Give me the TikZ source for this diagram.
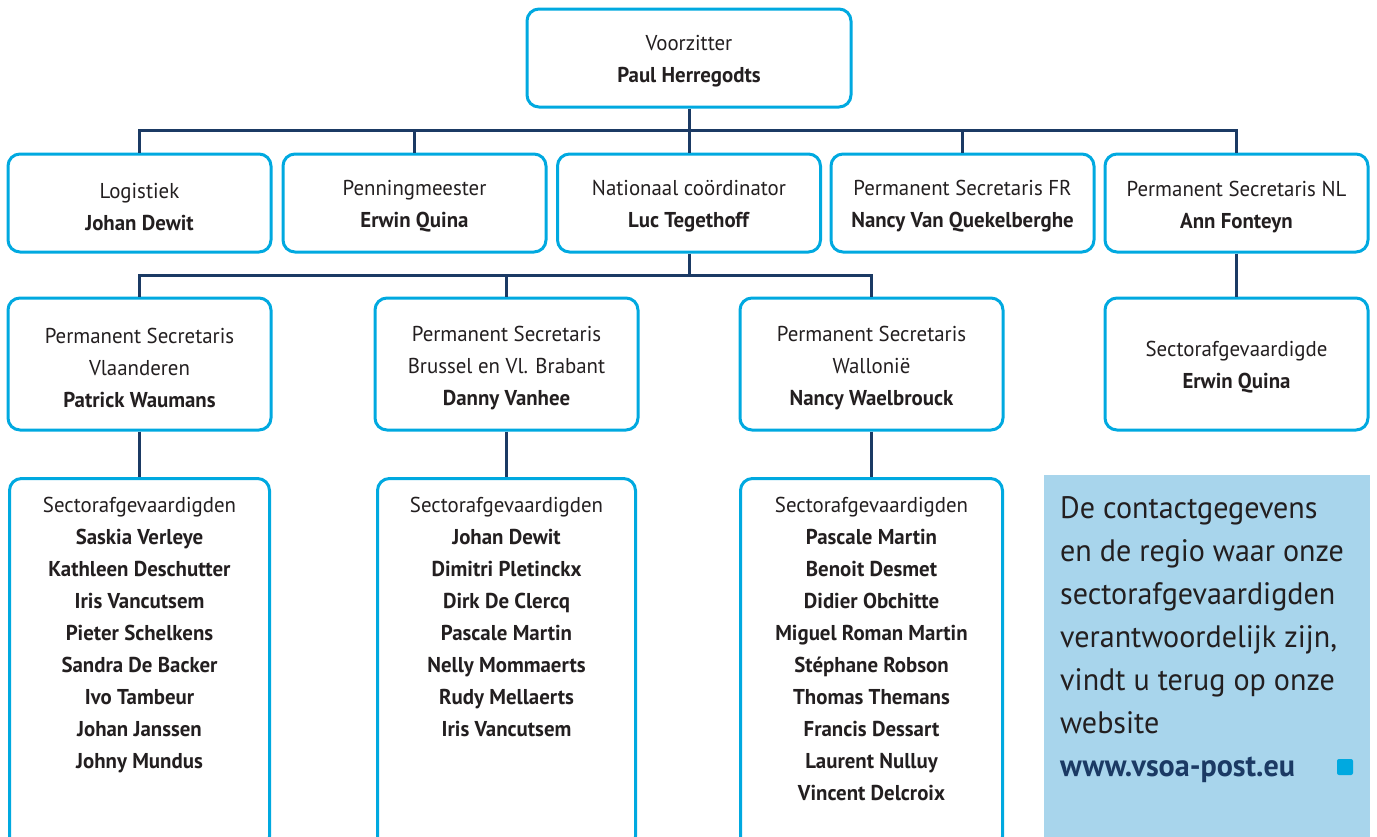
\documentclass[tikz,border=0pt]{standalone}
\usepackage{fontspec}
\setmainfont{PT Sans}[FakeStretch=0.97]
\usetikzlibrary{positioning}
\definecolor{vsoaCyan}{HTML}{00A9E0}
\definecolor{vsoaNavy}{HTML}{1B3A64}
\definecolor{vsoaLicht}{HTML}{A8D5EC}
\definecolor{vsoaTekst}{HTML}{231F20}
\newcommand{\functie}[2]{\strut#1\\\textbf{#2}}
\newcommand{\ledenlijst}[1]{\parbox[c][370pt][t]{250pt}{\centering\vspace*{19pt}Sectorafgevaardigden\\\bfseries #1}}
\tikzset{
  orgbox/.style={draw=vsoaCyan, line width=3pt, rounded corners=12pt, fill=white, align=center,
    text=vsoaTekst, font=\fontsize{21.5}{32}\selectfont, inner sep=0pt, minimum width=263pt},
  link/.style={draw=vsoaNavy, line width=3pt},
}

\begin{document}
\begin{tikzpicture}[x=1pt,y=-1pt]
  \useasboundingbox (0,0) rectangle (1377,836);
  \clip (0,0) rectangle (1377,836);
  \node[orgbox, minimum width=324pt, minimum height=98pt] (voorz) at (689,58) {\functie{Voorzitter}{Paul Herregodts}};
  \node[orgbox, minimum height=98pt] (logist) at (139.5,203) {\functie{Logistiek}{Johan Dewit}};
  \node[orgbox, minimum height=98pt] (penning) at (414.5,203) {\functie{Penningmeester}{Erwin Quina}};
  \node[orgbox, minimum height=98pt] (natio) at (689,203) {\functie{Nationaal coördinator}{Luc Tegethoff}};
  \node[orgbox, minimum height=98pt] (permFR) at (962.5,203) {\functie{Permanent Secretaris FR}{Nancy Van Quekelberghe}};
  \node[orgbox, minimum height=98pt] (permNL) at (1236.5,203) {\functie{Permanent Secretaris NL}{Ann Fonteyn}};
  \node[orgbox, minimum height=132pt] (vlaan) at (139.5,364) {\strut Permanent Secretaris\\Vlaanderen\\\textbf{Patrick Waumans}};
  \node[orgbox, minimum height=132pt] (brussel) at (506.5,364) {\strut Permanent Secretaris\\Brussel en Vl. Brabant\\\textbf{Danny Vanhee}};
  \node[orgbox, minimum height=132pt] (wallon) at (871.5,364) {\strut Permanent Secretaris\\Wallonië\\\textbf{Nancy Waelbrouck}};
  \node[orgbox, minimum height=132pt] (sectNL) at (1236.5,364) {\functie{Sectorafgevaardigde}{Erwin Quina}};
  \node[orgbox, anchor=north, minimum width=260pt] (lijstVl) at (139.5,477) {\ledenlijst{Saskia Verleye\\Kathleen Deschutter\\Iris Vancutsem\\Pieter Schelkens\\Sandra De Backer\\Ivo Tambeur\\Johan Janssen\\Johny Mundus}};
  \node[orgbox, anchor=north, minimum width=258pt] (lijstBr) at (506.5,477) {\ledenlijst{Johan Dewit\\Dimitri Pletinckx\\Dirk De Clercq\\Pascale Martin\\Nelly Mommaerts\\Rudy Mellaerts\\Iris Vancutsem}};
  \node[orgbox, anchor=north, minimum width=262pt] (lijstWa) at (871.5,477) {\ledenlijst{Pascale Martin\\Benoit Desmet\\Didier Obchitte\\Miguel Roman Martin\\Stéphane Robson\\Thomas Themans\\Francis Dessart\\Laurent Nulluy\\Vincent Delcroix}};
  \node[fill=vsoaLicht, anchor=north west, inner sep=0pt, text=vsoaTekst, font=\fontsize{31}{43}\selectfont] (info) at (1044,475) {\parbox[c][372pt][t]{326pt}{\raggedright\leftskip=16pt\vspace*{21pt}De contactgegevens\\en de regio waar onze\\sectorafgevaardigden\\verantwoordelijk zijn,\\vindt u terug op onze\\website\\{\color{vsoaNavy}\bfseries www.vsoa-post.eu}}};
  \node[fill=vsoaCyan, minimum size=16pt, inner sep=0pt, rounded corners=2pt] (blokje) at (1345,767) {};
  \coordinate (bus1) at (689,130);
  \coordinate (bus2) at (689,275);
  \draw[link] (voorz) -- (bus1);
  \foreach \n in {logist,penning,natio,permFR,permNL}
    \draw[link] (bus1) -| (\n);
  \draw[link] (natio) -- (bus2);
  \foreach \n in {vlaan,brussel,wallon}
    \draw[link] (bus2) -| (\n);
  \draw[link] (permNL) -- (sectNL);
  \draw[link] (vlaan) -- (lijstVl);
  \draw[link] (brussel) -- (lijstBr);
  \draw[link] (wallon) -- (lijstWa);
\end{tikzpicture}
\end{document}
